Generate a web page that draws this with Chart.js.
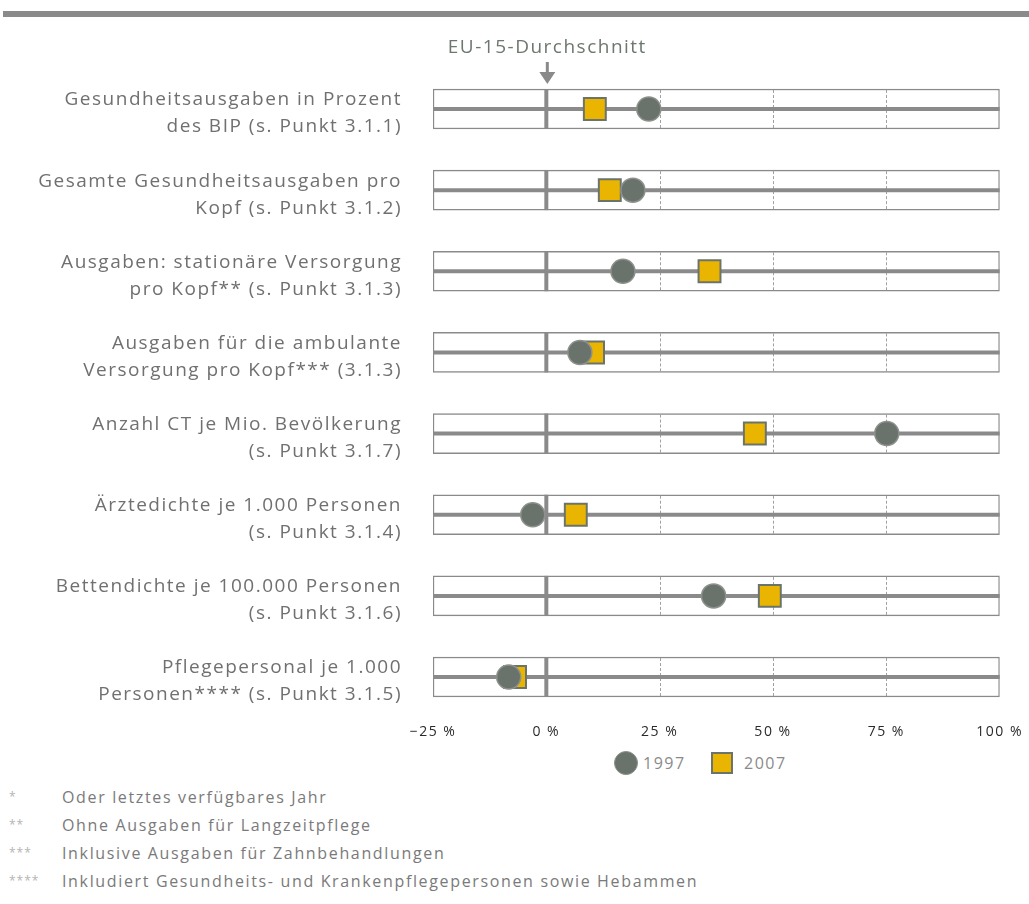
<!DOCTYPE html>
<html>
<head>
<meta charset="utf-8">
<script src="https://cdn.jsdelivr.net/npm/chart.js@4/dist/chart.umd.min.js"></script>
<style>
  html, body { margin: 0; padding: 0; background: #fff; }
  body { width: 1029px; height: 904px; position: relative; overflow: hidden; font-family: "Open Sans", sans-serif; }
  #topbar { position: absolute; left: 3px; top: 11px; width: 1026px; height: 6px; background: #8a8a8a; }
  #wrap { position: absolute; left: 0; top: 0; width: 1029px; height: 750px; }
  #legend { position: absolute; top: 751px; left: 0; width: 1029px; height: 24px; font-size: 16px; letter-spacing: 1.5px; color: #8a8a8a; }
  #legend .item { position: absolute; top: 0; height: 24px; line-height: 24px; white-space: nowrap; }
  #legend .sw { position: absolute; top: 0; }
  #notes { position: absolute; left: 0; top: 783px; width: 1029px; }
  .note { height: 28px; line-height: 28px; font-size: 16px; letter-spacing: 1.65px; color: #7a7a7a; position: relative; white-space: nowrap; }
  .note .mark { position: absolute; left: 9px; color: #b4b4b4; font-size: 12px; letter-spacing: 1px; }
  .note .txt { position: absolute; left: 62px; }
</style>
</head>
<body>
<div id="topbar"></div>
<div id="wrap"><canvas id="chart"></canvas></div>
<div id="legend"></div>
<div id="notes"></div>
<script>
// Indicators (two-line labels), deviation from the EU-15 average in percent
const categories = [
  ['Gesundheitsausgaben in Prozent', 'des BIP (s. Punkt 3.1.1)'],
  ['Gesamte Gesundheitsausgaben pro', 'Kopf (s. Punkt 3.1.2)'],
  ['Ausgaben: stationäre Versorgung', 'pro Kopf** (s. Punkt 3.1.3)'],
  ['Ausgaben für die ambulante', 'Versorgung pro Kopf*** (3.1.3)'],
  ['Anzahl CT je Mio. Bevölkerung', '(s. Punkt 3.1.7)'],
  ['Ärztedichte je 1.000 Personen', '(s. Punkt 3.1.4)'],
  ['Bettendichte je 100.000 Personen', '(s. Punkt 3.1.6)'],
  ['Pflegepersonal je 1.000', 'Personen**** (s. Punkt 3.1.5)']
];
const values1997 = [22.6, 19.1, 16.9, 7.4, 75.1, -3.0, 36.9, -8.3];
const values2007 = [10.7, 14.0, 36.0, 10.3, 46.0, 6.5, 49.3, -6.9];
const seriesNames = ['1997', '2007'];
const xTicks = [-25, 0, 25, 50, 75, 100];
const referenceLabel = 'EU-15-Durchschnitt';
const footnotes = [
  ['*', 'Oder letztes verfügbares Jahr'],
  ['**', 'Ohne Ausgaben für Langzeitpflege'],
  ['***', 'Inklusive Ausgaben für Zahnbehandlungen'],
  ['****', 'Inkludiert Gesundheits- und Krankenpflegepersonen sowie Hebammen']
];

const GRAY = '#8a8a8a';
const FONT = '"Open Sans", sans-serif';
const CIRCLE_FILL = '#69736b', CIRCLE_EDGE = '#8d918d';
const SQUARE_FILL = '#e9b500', SQUARE_EDGE = '#6b746b';

// footnotes below the chart
const notesEl = document.getElementById('notes');
footnotes.forEach(([m, t]) => {
  const d = document.createElement('div');
  d.className = 'note';
  d.innerHTML = '<span class="mark"></span><span class="txt"></span>';
  d.querySelector('.mark').textContent = m;
  d.querySelector('.txt').textContent = t;
  notesEl.appendChild(d);
});

// legend: circle = 1997, square = 2007
const legendEl = document.getElementById('legend');
[
  { name: seriesNames[0], left: 614, shape: `width:22px;height:22px;border-radius:50%;background:${CIRCLE_FILL};border:1px solid ${CIRCLE_EDGE};top:0;`, textLeft: 643 },
  { name: seriesNames[1], left: 711, shape: `width:18px;height:18px;background:${SQUARE_FILL};border:2px solid ${SQUARE_EDGE};top:1px;`, textLeft: 744 }
].forEach(it => {
  const sw = document.createElement('div');
  sw.className = 'sw';
  sw.style.cssText = `position:absolute;left:${it.left}px;` + it.shape;
  legendEl.appendChild(sw);
  const lb = document.createElement('div');
  lb.className = 'item';
  lb.style.left = it.textLeft + 'px';
  lb.textContent = it.name;
  legendEl.appendChild(lb);
});

const catKeys = categories.map(c => c.join(' '));
const xMin = xTicks[0], xMax = xTicks[xTicks.length - 1];

// slightly tracked lettering for all canvas text
const tracking = {
  id: 'tracking',
  beforeUpdate(chart) { chart.ctx.letterSpacing = '1.5px'; },
  beforeLayout(chart) { chart.ctx.letterSpacing = '1.5px'; },
  beforeDraw(chart) { chart.ctx.letterSpacing = '1.5px'; }
};

// lines inside every row frame: midline, 0 % reference line, dashed quarter lines
const rowFramePlugin = {
  id: 'rowFrame',
  afterDatasetDraw(chart, args) {
    if (args.index !== 0) return;
    const ctx = chart.ctx;
    const xs = chart.scales.x;
    ctx.save();
    args.meta.data.forEach(bar => {
      const p = bar.getProps(['y', 'height'], true);
      const top = p.y - p.height / 2 + 1, bottom = p.y + p.height / 2 - 1;
      const left = xs.getPixelForValue(xMin), right = xs.getPixelForValue(xMax);
      ctx.strokeStyle = '#a0a0a0';
      ctx.lineWidth = 1;
      ctx.setLineDash([3, 2]);
      xTicks.forEach(t => {
        if (t === 0 || t === xMin || t === xMax) return;
        const x = Math.round(xs.getPixelForValue(t)) + 0.5;
        ctx.beginPath(); ctx.moveTo(x, top); ctx.lineTo(x, bottom); ctx.stroke();
      });
      ctx.setLineDash([]);
      ctx.strokeStyle = GRAY;
      ctx.lineWidth = 4;
      ctx.beginPath(); ctx.moveTo(left, p.y); ctx.lineTo(right, p.y); ctx.stroke();
      const x0 = xs.getPixelForValue(0);
      ctx.beginPath(); ctx.moveTo(x0, top - 1); ctx.lineTo(x0, bottom + 1); ctx.stroke();
    });
    ctx.restore();
  },
  afterDraw(chart) {
    const ctx = chart.ctx;
    const x0 = chart.scales.x.getPixelForValue(0);
    ctx.save();
    ctx.fillStyle = '#6d776f';
    ctx.font = '19px ' + FONT;
    ctx.textAlign = 'center';
    ctx.textBaseline = 'middle';
    ctx.fillText(referenceLabel, x0 + 1, 48);
    // arrow pointing down to the first row
    ctx.strokeStyle = GRAY;
    ctx.fillStyle = GRAY;
    ctx.lineWidth = 3;
    ctx.beginPath(); ctx.moveTo(x0 + 1, 62); ctx.lineTo(x0 + 1, 73); ctx.stroke();
    ctx.beginPath();
    ctx.moveTo(x0 - 7, 72); ctx.lineTo(x0 + 9, 72); ctx.lineTo(x0 + 1, 84); ctx.closePath(); ctx.fill();
    ctx.restore();
  }
};

new Chart(document.getElementById('chart'), {
  type: 'bar',
  data: {
    labels: catKeys,
    datasets: [
      {
        label: 'frame',
        data: categories.map(() => [xMin, xMax]),
        backgroundColor: '#ffffff',
        borderColor: GRAY,
        borderWidth: 1.5,
        borderSkipped: false,
        barThickness: 40,
        grouped: false,
        order: 3
      },
      {
        type: 'line',
        label: seriesNames[1],
        data: values2007.map((v, i) => ({ x: v, y: catKeys[i] })),
        showLine: false,
        pointStyle: 'rect',
        pointRadius: 15.5,
        pointHoverRadius: 15.5,
        backgroundColor: SQUARE_FILL,
        borderColor: SQUARE_EDGE,
        pointBorderWidth: 2,
        order: 2
      },
      {
        type: 'line',
        label: seriesNames[0],
        data: values1997.map((v, i) => ({ x: v, y: catKeys[i] })),
        showLine: false,
        pointStyle: 'circle',
        pointRadius: 12,
        pointHoverRadius: 12,
        backgroundColor: CIRCLE_FILL,
        borderColor: CIRCLE_EDGE,
        pointBorderWidth: 1.5,
        order: 1
      }
    ]
  },
  options: {
    indexAxis: 'y',
    responsive: true,
    maintainAspectRatio: false,
    animation: false,
    events: [],
    layout: { padding: { top: 68.4, right: 24, left: 0, bottom: 2.4 } },
    scales: {
      x: {
        type: 'linear',
        min: xMin, max: xMax,
        afterBuildTicks(s) { s.ticks = xTicks.map(v => ({ value: v })); },
        afterFit(s) { s.height = 30; },
        grid: { display: false, drawTicks: false },
        border: { display: false },
        ticks: {
          padding: 6,
          color: '#2a2a2a',
          font: { family: FONT, size: 14 },
          callback: v => (v < 0 ? '\u2212' + Math.abs(v) : v) + ' %'
        }
      },
      y: {
        type: 'category',
        offset: true,
        afterFit(s) { s.width = 433; s.paddingTop = 0; s.paddingBottom = 0; },
        grid: { display: false, drawTicks: false },
        border: { display: false },
        ticks: {
          padding: 31,
          labelOffset: 4.5,
          color: '#707070',
          font: { family: FONT, size: 19, lineHeight: 1.42 },
          callback(v, i) { return categories[i]; }
        }
      }
    },
    plugins: {
      legend: { display: false },
      tooltip: { enabled: false }
    }
  },
  plugins: [tracking, rowFramePlugin]
});
</script>
</body>
</html>
